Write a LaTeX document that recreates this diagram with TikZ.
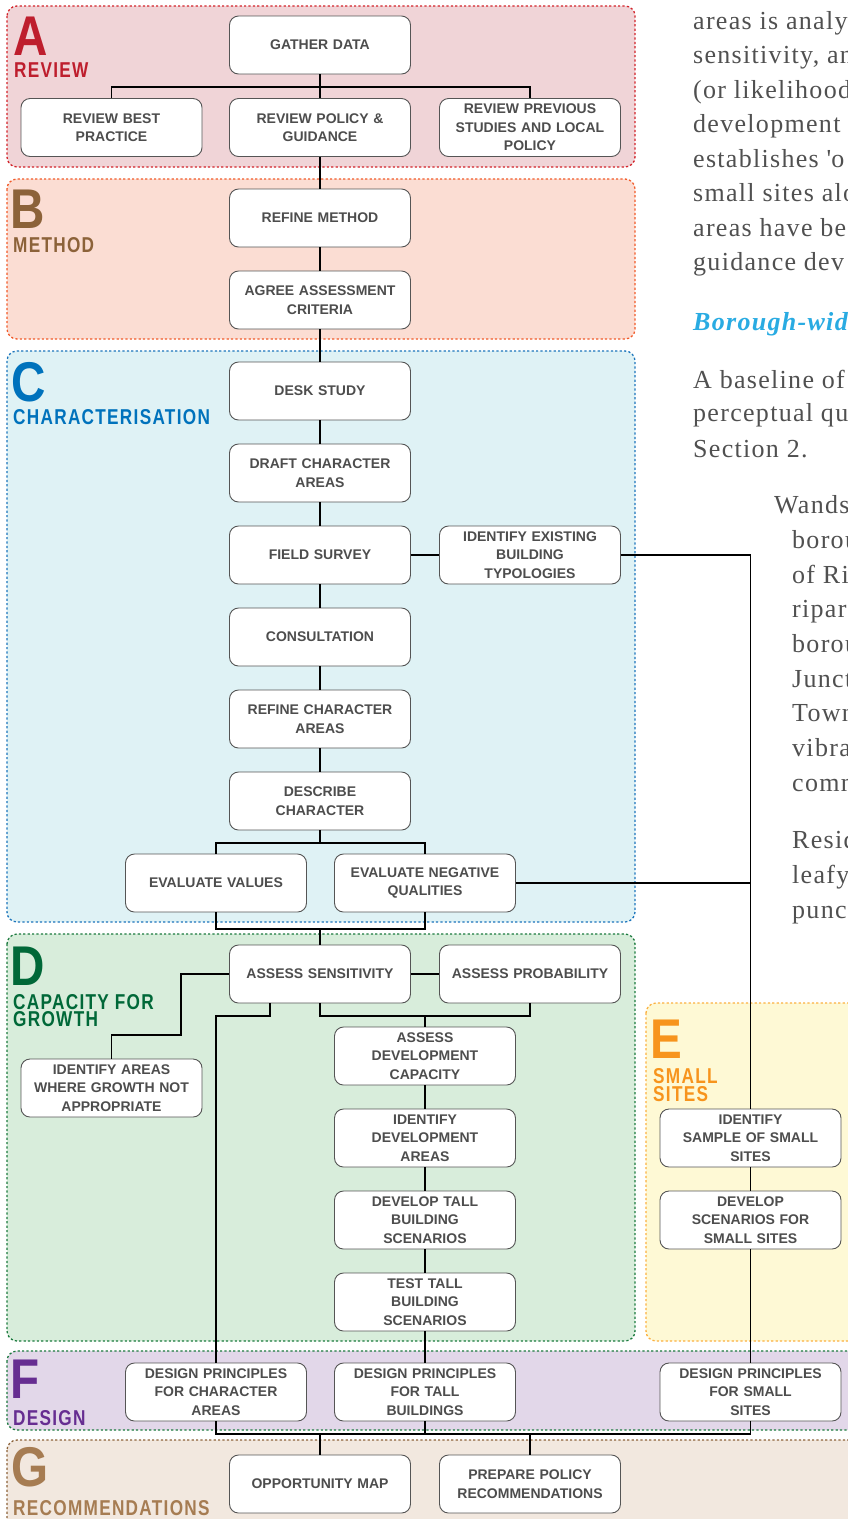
\documentclass[tikz,border=0pt]{standalone}
\usepackage{fontspec}
\setmainfont{Liberation Serif}
\newfontfamily\boxfont{Liberation Sans}
\newfontfamily\headfont[FakeStretch=0.8,LetterSpace=6]{Liberation Sans}
\newfontfamily\letterfont[FakeStretch=0.85]{Liberation Sans}
\newfontfamily\bodyfont[LetterSpace=5]{Liberation Serif}
\definecolor{boxtext}{HTML}{4D4D4D}
\definecolor{boxline}{HTML}{555555}
\definecolor{bodytext}{HTML}{505050}
\definecolor{bodyblue}{HTML}{29ABE2}
\definecolor{fillA}{HTML}{F0D4D7}\definecolor{lineA}{HTML}{D2232A}\definecolor{colA}{HTML}{BE1E2D}
\definecolor{fillB}{HTML}{FBDDD3}\definecolor{lineB}{HTML}{F15A29}\definecolor{colB}{HTML}{8C6239}
\definecolor{fillC}{HTML}{DFF2F5}\definecolor{lineC}{HTML}{1C75BC}\definecolor{colC}{HTML}{0072BC}
\definecolor{fillD}{HTML}{D8EDDB}\definecolor{lineD}{HTML}{1B7A3E}\definecolor{colD}{HTML}{006838}
\definecolor{fillE}{HTML}{FEF9D5}\definecolor{lineE}{HTML}{FBB040}\definecolor{colE}{HTML}{F7941D}
\definecolor{fillF}{HTML}{E2D7E9}\definecolor{colF}{HTML}{662D91}
\definecolor{fillG}{HTML}{F2E8DF}\definecolor{lineG}{HTML}{8C6239}\definecolor{colG}{HTML}{A67C52}
\begin{document}
\begin{tikzpicture}[x=1pt, y=-1pt,
    stepbox/.style={draw=boxline, fill=white, line width=0.9pt, rounded corners=9pt,
      minimum width=181pt, minimum height=58pt, text width=177pt, inner sep=2pt,
      align=center, text=boxtext, font=\boxfont\bfseries\fontsize{14}{18.5}\selectfont},
    link/.style={line width=1.4pt},
    panel/.style={rounded corners=10pt, line width=1.3pt, dash pattern=on 2.2pt off 2.2pt},
    bigletter/.style={anchor=base west, inner sep=0pt, font=\letterfont\bfseries\fontsize{56}{56}\selectfont},
    phase/.style={anchor=base west, inner sep=0pt, font=\headfont\bfseries\fontsize{21.5}{20}\selectfont},
    bodyline/.style={anchor=base west, inner sep=0pt, text=bodytext, font=\bodyfont\fontsize{26}{34}\selectfont}]
  \useasboundingbox (0,0) rectangle (848,1519);

  % phase panels
  \draw[panel, draw=lineA, fill=fillA] (7,6) rectangle (635,167);
  \draw[panel, draw=lineB, fill=fillB] (7,179) rectangle (635,339);
  \draw[panel, draw=lineC, fill=fillC] (7,351) rectangle (635,922);
  \draw[panel, draw=lineD, fill=fillD] (7,934) rectangle (635,1341);
  \draw[panel, draw=lineE, fill=fillE] (646,1003) rectangle (870,1341);
  \draw[panel, draw=lineD, fill=fillF] (7,1351) rectangle (870,1430);
  \draw[panel, draw=lineG, fill=fillG] (7,1440) rectangle (870,1540);

  % phase letters and titles
  \node[bigletter, text=colA] (letA) at (13,55) {A};
  \node[phase, text=colA] (titA) at (14,77) {REVIEW};
  \node[bigletter, text=colB] (letB) at (10,228) {B};
  \node[phase, text=colB] (titB) at (13,252) {METHOD};
  \node[bigletter, text=colC] (letC) at (11,401) {C};
  \node[phase, text=colC] (titC) at (13,424) {CHARACTERISATION};
  \node[bigletter, text=colD] (letD) at (10,985) {D};
  \node[phase, text=colD] (titD) at (13,1009) {CAPACITY FOR};
  \node[phase, text=colD] (titD2) at (13,1026) {GROWTH};
  \node[bigletter, text=colE] (letE) at (650,1058) {E};
  \node[phase, text=colE] (titE) at (653,1083) {SMALL};
  \node[phase, text=colE] (titE2) at (653,1101) {SITES};
  \node[bigletter, text=colF] (letF) at (10,1398) {F};
  \node[phase, text=colF] (titF) at (13,1425) {DESIGN};
  \node[bigletter, text=colG] (letG) at (11,1486) {G};
  \node[phase, text=colG] (titG) at (13,1515) {RECOMMENDATIONS};

  % A review
  \node[stepbox] (gather) at (320,45) {GATHER DATA};
  \node[stepbox] (best) at (111.5,127.5) {REVIEW BEST\\PRACTICE};
  \node[stepbox] (policy) at (320,127.5) {REVIEW POLICY \&\\GUIDANCE};
  \node[stepbox] (prev) at (530,127.5) {REVIEW PREVIOUS\\STUDIES AND LOCAL\\POLICY};
  % B method
  \node[stepbox] (method) at (320,218) {REFINE METHOD};
  \node[stepbox] (criteria) at (320,300) {AGREE ASSESSMENT\\CRITERIA};
  % C characterisation
  \node[stepbox] (desk) at (320,391) {DESK STUDY};
  \node[stepbox] (draft) at (320,473) {DRAFT CHARACTER\\AREAS};
  \node[stepbox] (field) at (320,555) {FIELD SURVEY};
  \node[stepbox] (typ) at (530,555) {IDENTIFY EXISTING\\BUILDING\\TYPOLOGIES};
  \node[stepbox] (consult) at (320,637) {CONSULTATION};
  \node[stepbox] (refine) at (320,719) {REFINE CHARACTER\\AREAS};
  \node[stepbox] (describe) at (320,801) {DESCRIBE\\CHARACTER};
  \node[stepbox] (values) at (216,883) {EVALUATE VALUES};
  \node[stepbox] (neg) at (425,883) {EVALUATE NEGATIVE\\QUALITIES};
  % D capacity for growth
  \node[stepbox] (sens) at (320,974) {ASSESS SENSITIVITY};
  \node[stepbox] (prob) at (530,974) {ASSESS PROBABILITY};
  \node[stepbox] (area) at (111.5,1088) {IDENTIFY AREAS\\WHERE GROWTH NOT\\APPROPRIATE};
  \node[stepbox] (adc) at (425,1056) {ASSESS\\DEVELOPMENT\\CAPACITY};
  \node[stepbox] (ida) at (425,1138) {IDENTIFY\\DEVELOPMENT\\AREAS};
  \node[stepbox] (devt) at (425,1220) {DEVELOP TALL\\BUILDING\\SCENARIOS};
  \node[stepbox] (test) at (425,1302) {TEST TALL\\BUILDING\\SCENARIOS};
  % E small sites
  \node[stepbox] (sample) at (750.5,1138) {IDENTIFY\\SAMPLE OF SMALL\\SITES};
  \node[stepbox] (scen) at (750.5,1220) {DEVELOP\\SCENARIOS FOR\\SMALL SITES};
  % F design
  \node[stepbox] (dpChar) at (216,1392) {DESIGN PRINCIPLES\\FOR CHARACTER\\AREAS};
  \node[stepbox] (dpTall) at (425,1392) {DESIGN PRINCIPLES\\FOR TALL\\BUILDINGS};
  \node[stepbox] (dpSmall) at (750.5,1392) {DESIGN PRINCIPLES\\FOR SMALL\\SITES};
  % G recommendations
  \node[stepbox] (opp) at (320,1484) {OPPORTUNITY MAP};
  \node[stepbox] (prep) at (530,1484) {PREPARE POLICY\\RECOMMENDATIONS};

  % junctions
  \coordinate (jA) at (320,87);
  \coordinate (jC1) at (320,843);
  \coordinate (jC2) at (320,929);
  \coordinate (bendD) at (181,1035);
  \coordinate (jD1) at (216,1016);
  \coordinate (jD2) at (320,1016);
  \coordinate (jF) at (320,1434);

  % connectors
  \draw[link] (gather) -- (jA);
  \draw[link] (best.north) |- (jA) -| (prev.north);
  \draw[link] (jA) -- (policy);
  \foreach \a/\b in {policy/method, method/criteria, criteria/desk, desk/draft,
      draft/field, field/consult, consult/refine, refine/describe}
    \draw[link] (\a) -- (\b);
  \draw[link] (field) -- (typ);
  \draw[link] (describe) -- (jC1);
  \draw[link] (values.north) |- (jC1) -| (neg.north);
  \draw[link] (values.south) |- (jC2) -| (neg.south);
  \draw[link] (jC2) -- (sens);
  \draw[link] (sens) -- (prob);
  \draw[link] (sens.west) -| (bendD) -| (area.north);
  \draw[link] ([xshift=-50pt]sens.south) |- (jD1) -- (dpChar.north);
  \draw[link] (sens.south) -- (jD2) -| (prob.south);
  \draw[link] (jD2 -| adc.north) -- (adc.north);
  \foreach \a/\b in {adc/ida, ida/devt, devt/test, test/dpTall}
    \draw[link] (\a) -- (\b);
  \draw[link] (typ.east) -| (sample.north);
  \draw[link] (neg.east) -- (neg.east -| sample.north);
  \draw[link] (sample) -- (scen);
  \draw[link] (scen) -- (dpSmall);
  \draw[link] (dpChar.south) |- (jF) -| (dpSmall.south);
  \draw[link] (dpTall.south) -- (dpTall.south |- jF);
  \draw[link] (jF) -- (opp);
  \draw[link] (jF -| prep.north) -- (prep.north);

  % running text beside the chart
  \foreach \y/\t in {29/areas is analy, 63.5/{sensitivity, an}, 98/(or likelihood,
      132.5/development, 167/establishes \textquotesingle o, 201.5/small sites alo,
      236/areas have be, 270.5/guidance dev, 388/A baseline of, 421/perceptual qu,
      457/Section 2.}
    \node[bodyline] at (693,\y) {\t};
  \node[bodyline, text=bodyblue, font=\bodyfont\bfseries\itshape\fontsize{26}{34}\selectfont] (bhead) at (693,330) {Borough-wid};
  \node[bodyline] at (774,513) {Wands};
  \foreach \y/\t in {548/borou, 583/of Ri, 617/ripar, 652/borou, 687/Junct, 721/Town,
      756/vibra, 791/comm, 848/Resid, 883/leafy, 918/punc}
    \node[bodyline] at (792,\y) {\t};
\end{tikzpicture}
\end{document}
